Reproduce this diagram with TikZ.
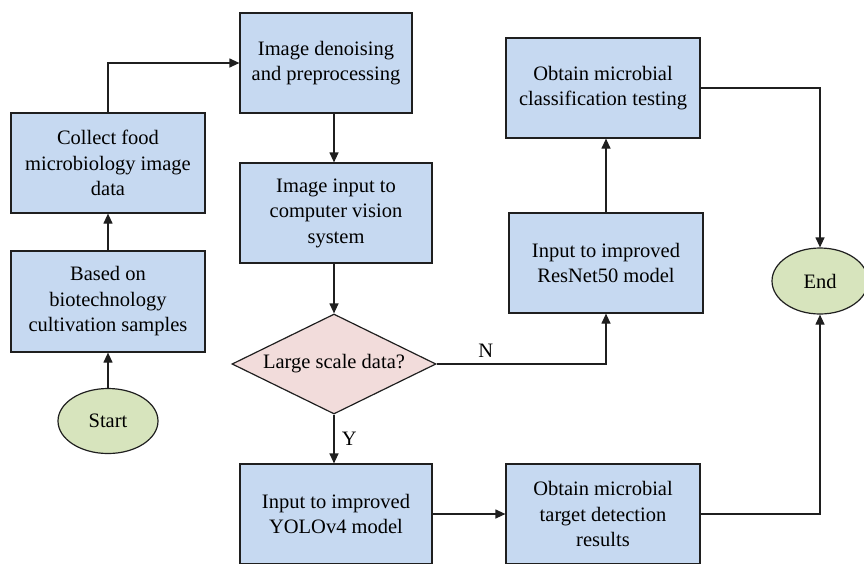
\documentclass[tikz,border=0pt]{standalone}
\usepackage{fontspec}
\setmainfont{Liberation Serif}
\usetikzlibrary{shapes.geometric,arrows.meta}
\definecolor{boxfill}{HTML}{C6D9F1}
\definecolor{diafill}{HTML}{F2DCDB}
\definecolor{ellfill}{HTML}{D7E4BD}
\definecolor{edgecol}{HTML}{1F1F1F}
\tikzset{
  stepbox/.style={draw=edgecol, line width=1.2pt, fill=boxfill, rectangle, inner sep=0pt,
    align=center, font=\fontsize{20.5}{25.5}\selectfont},
  term/.style={draw=edgecol, line width=1.2pt, fill=ellfill, ellipse, inner sep=0pt,
    font=\fontsize{20.5}{25.5}\selectfont},
  decide/.style={draw=edgecol, line width=1.2pt, fill=diafill, diamond, inner sep=0pt},
  conn/.style={draw=edgecol, line width=1.2pt, -{Triangle[length=10pt,width=9pt]}},
  lab/.style={font=\fontsize{20.5}{25.5}\selectfont}
}
\begin{document}
\begin{tikzpicture}[x=1pt,y=-1pt]
\useasboundingbox (0,0) rectangle (864,563);
\clip (0,0) rectangle (864,563);
\node[stepbox, minimum width=172pt, minimum height=100pt] (den) at (326,63) {Image denoising\\and preprocessing};
\node[stepbox, minimum width=194pt, minimum height=100pt] (col) at (108,163) {Collect food\\microbiology image\\data};
\node[stepbox, minimum width=192pt, minimum height=100pt] (inp) at (336,213) {Image input to\\computer vision\\system};
\node[stepbox, minimum width=194pt, minimum height=101pt] (bas) at (108,301.5) {Based on\\biotechnology\\cultivation samples};
\node[term, minimum width=100pt, minimum height=65pt] (start) at (108,421) {Start};
\node[decide, minimum width=204pt, minimum height=100pt] (dia) at (334,364) {};
\node[lab] (diatext) at (dia.center) {Large scale data?};
\node[stepbox, minimum width=192pt, minimum height=100pt] (yolo) at (336,514) {Input to improved\\YOLOv4 model};
\node[stepbox, minimum width=194pt, minimum height=100pt] (cls) at (603,88) {Obtain microbial\\classification testing};
\node[stepbox, minimum width=194pt, minimum height=100pt] (res) at (606,263) {Input to improved\\ResNet50 model};
\node[stepbox, minimum width=194pt, minimum height=100pt] (tgt) at (603,514) {Obtain microbial\\target detection\\results};
\node[term, minimum width=96pt, minimum height=66pt] (end) at (820,281) {End};

\draw[conn] (start.north) -- (bas.south);
\draw[conn] (bas.north) -- (col.south);
\draw[conn] (col.north) |- (den.west);
\draw[conn] (dia.north |- den.south) -- (dia.north |- inp.north);
\draw[conn] (dia.north |- inp.south) -- (dia.north);
\draw[conn] (dia.south) -- node[lab, right=4pt, pos=0.5] (ylab) {Y} (dia.south |- yolo.north);
\draw[conn] (dia.east) -- node[lab, above=3pt, pos=0.29] (nlab) {N} (res.south |- dia.east) -- (res.south);
\draw[conn] (res.north) -- (res.north |- cls.south);
\draw[conn] (cls.east) -| (end.north);
\draw[conn] (yolo.east) -- (tgt.west);
\draw[conn] (tgt.east) -| (end.south);
\end{tikzpicture}
\end{document}
